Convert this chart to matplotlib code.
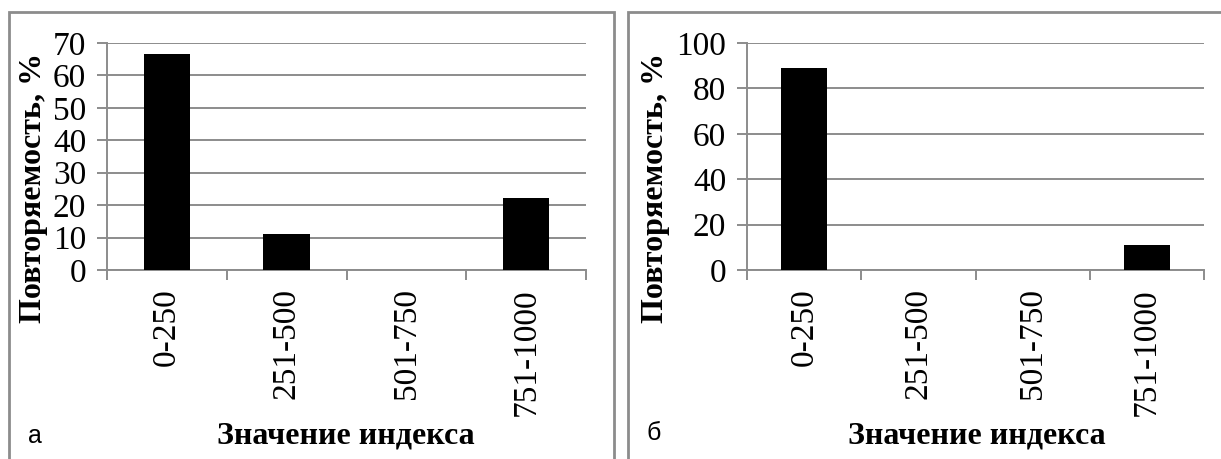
import matplotlib
matplotlib.use("Agg")
import matplotlib.pyplot as plt
from matplotlib.patches import Rectangle
import numpy as np

categories = ["0-250", "251-500", "501-750", "751-1000"]
values_a = [66.7, 11.1, 0.0, 22.2]
values_b = [88.9, 0.0, 0.0, 11.1]
yticks_a = [0, 10, 20, 30, 40, 50, 60, 70]
yticks_b = [0, 20, 40, 60, 80, 100]
ylabel = "Повторяемость, %"
xlabel = "Значение индекса"
panel_letters = ["а", "б"]

W, H = 1221, 459
fig = plt.figure(figsize=(W / 100, H / 100), dpi=100)
fig.patch.set_facecolor("white")

GRAY = "#8c8c8c"
SERIF = "Liberation Serif"
SANS = "Liberation Sans"


def px_axes(x0, x1, ytop, ybot):
    return fig.add_axes([x0 / W, 1 - ybot / H, (x1 - x0) / W, (ybot - ytop) / H])


def draw_panel(ax, values, yticks, bar_width):
    x = np.arange(len(categories))
    ax.bar(x, values, width=bar_width, color="black", linewidth=0, zorder=3)
    ax.set_xlim(-0.5, len(categories) - 0.5)
    ax.set_ylim(yticks[0], yticks[-1])
    ax.set_yticks(yticks)
    ax.set_yticklabels([str(t) for t in yticks], fontfamily=SERIF, fontsize=24)
    ax.yaxis.grid(True, color=GRAY, linewidth=1.4, zorder=0)
    ax.set_axisbelow(True)
    for s in ["top", "right"]:
        ax.spines[s].set_visible(False)
    for s in ["left", "bottom"]:
        ax.spines[s].set_color(GRAY)
        ax.spines[s].set_linewidth(1.4)
    ax.tick_params(axis="y", length=7, width=1.4, color=GRAY, pad=8)
    ax.set_xticks(x)
    ax.set_xticklabels(categories, rotation=90, fontfamily=SERIF, fontsize=24,
                       va="top", ha="center")
    ax.tick_params(axis="x", which="major", length=0, pad=13)
    ax.set_xticks(np.arange(-0.5, len(categories)), minor=True)
    ax.tick_params(axis="x", which="minor", length=7.5, width=1.4, color=GRAY)
    ax.set_facecolor("white")


ax_a = px_axes(107, 586, 43, 270)
draw_panel(ax_a, values_a, yticks_a, 0.39)
ax_b = px_axes(747, 1204, 43, 270)
draw_panel(ax_b, values_b, yticks_b, 0.40)

# panel frames
fig.add_artist(Rectangle((9 / W, -0.1), (614 - 9) / W, 1.1 - 12 / H,
                         transform=fig.transFigure, fill=False,
                         edgecolor=GRAY, linewidth=2, clip_on=False))
fig.add_artist(Rectangle((628 / W, -0.1), 0.6, 1.1 - 12 / H,
                         transform=fig.transFigure, fill=False,
                         edgecolor=GRAY, linewidth=2, clip_on=False))

# axis titles
for xc in (34, 656):
    fig.text(xc / W, 1 - 188 / H, ylabel, rotation=90, ha="center", va="center",
             fontfamily=SERIF, fontweight="bold", fontsize=23)
for xc in (346, 977):
    fig.text(xc / W, 1 - 436 / H, xlabel, ha="center", va="center",
             fontfamily=SERIF, fontweight="bold", fontsize=23)

# panel letters
fig.text(28 / W, 1 - 436 / H, panel_letters[0], ha="left", va="center",
         fontfamily=SANS, fontsize=18)
fig.text(647 / W, 1 - 433 / H, panel_letters[1], ha="left", va="center",
         fontfamily=SANS, fontsize=18)

fig.savefig("out.png", dpi=100)
